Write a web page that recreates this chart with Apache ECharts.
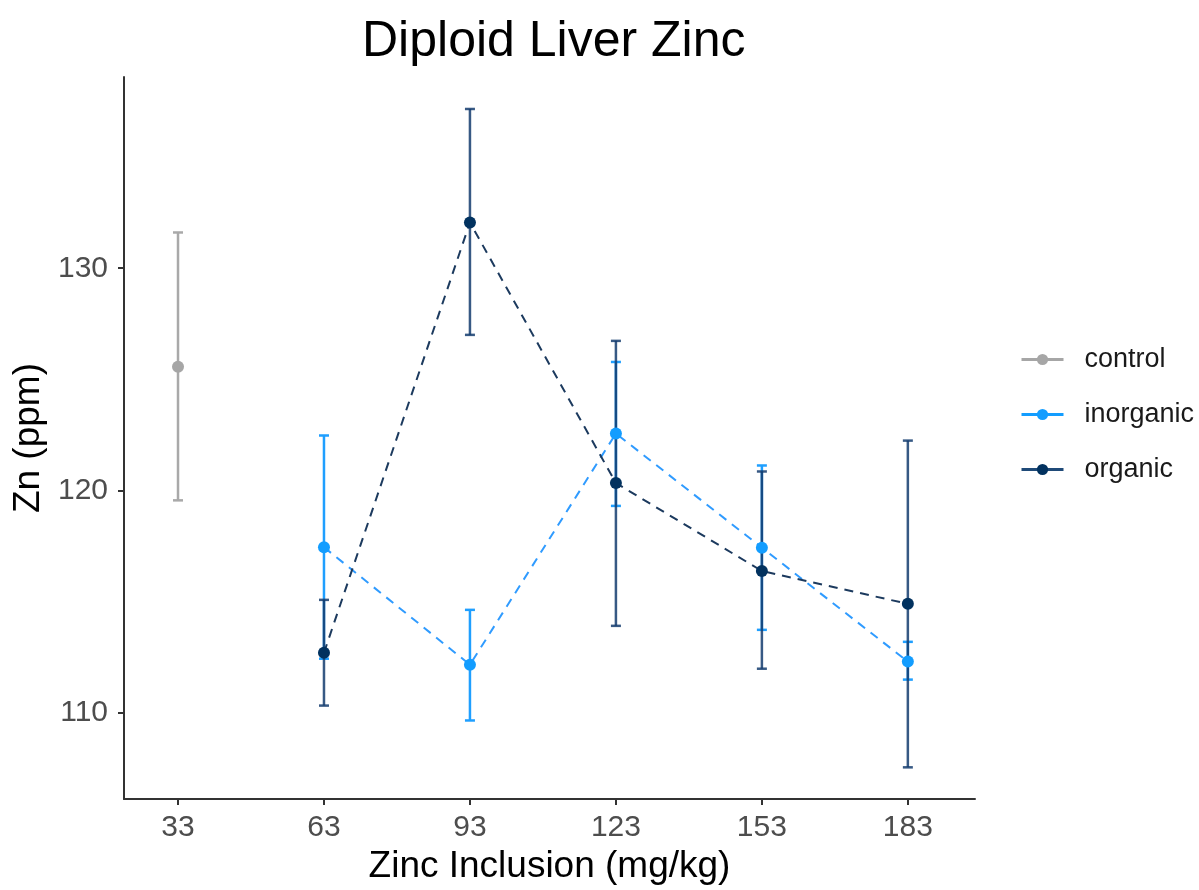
<!DOCTYPE html>
<html>
<head>
<meta charset="utf-8">
<script src="https://cdn.jsdelivr.net/npm/echarts@6/dist/echarts.min.js"></script>
<style>html,body{margin:0;padding:0;background:#fff;}#chart{width:1199px;height:890px;}</style>
</head>
<body>
<div id="chart"></div>
<script>
// ---- data ----
const xTicks = [33, 63, 93, 123, 153, 183];
const yTicks = [110, 120, 130];
const controlDose = [33];
const controlMean = [125.56];
const controlLow = [119.55];
const controlHigh = [131.61];
const treatDose = [63, 93, 123, 153, 183];
const inorganicMean = [117.44, 112.15, 122.56, 117.42, 112.29];
const inorganicLow = [112.42, 109.64, 119.30, 113.72, 111.48];
const inorganicHigh = [122.47, 114.62, 125.78, 121.12, 113.18];
const organicMean = [112.69, 132.06, 120.33, 116.37, 114.89];
const organicLow = [110.31, 127.00, 113.90, 111.97, 107.53];
const organicHigh = [115.07, 137.17, 126.73, 120.85, 122.24];

// ---- build ----
const FONT = "'Liberation Sans', Arial, Helvetica, sans-serif";
function pts(xs, ys) { return xs.map((x, i) => [x, ys[i]]); }
function bars(xs, lo, hi) { return xs.map((x, i) => [x, lo[i], hi[i]]); }
function errRenderer(color, width) {
  return function (params, api) {
    const x = api.value(0);
    const a = api.coord([x, api.value(1)]);
    const b = api.coord([x, api.value(2)]);
    const h = 5;
    const style = { stroke: color, lineWidth: width, fill: null };
    return {
      type: 'group',
      children: [
        { type: 'line', shape: { x1: a[0], y1: a[1], x2: b[0], y2: b[1] }, style: style },
        { type: 'line', shape: { x1: a[0] - h, y1: a[1], x2: a[0] + h, y2: a[1] }, style: style },
        { type: 'line', shape: { x1: b[0] - h, y1: b[1], x2: b[0] + h, y2: b[1] }, style: style }
      ]
    };
  };
}
const C_CTRL = '#a6a6a6', C_INO = '#139dff', C_ORG = '#02325f';

const chart = echarts.init(document.getElementById('chart'), null, { renderer: 'canvas' });
chart.setOption({
  backgroundColor: '#ffffff',
  animation: false,
  textStyle: { fontFamily: FONT },
  title: {
    text: 'Diploid Liver Zinc',
    left: 357, top: 12,
    textStyle: { fontFamily: FONT, fontSize: 50, fontWeight: 'normal', color: '#000' }
  },
  legend: {
    orient: 'vertical',
    left: 1015, top: 341,
    itemWidth: 42, itemHeight: 14, itemGap: 28,
    textStyle: { fontFamily: FONT, fontSize: 27, color: '#1a1a1a', padding: [0, 0, 0, 16] },
    data: [
      { name: 'control', lineStyle: { type: 'solid', width: 3, color: C_CTRL } },
      { name: 'inorganic', lineStyle: { type: 'solid', width: 3, color: C_INO } },
      { name: 'organic', lineStyle: { type: 'solid', width: 3, color: '#1f4a78' } }
    ]
  },
  grid: { left: 124, right: 224, top: 77, bottom: 87, containLabel: false },
  xAxis: {
    type: 'value', min: 21.9, max: 196.8,
    name: 'Zinc Inclusion (mg/kg)', nameLocation: 'middle', nameGap: 43,
    nameTextStyle: { fontFamily: FONT, fontSize: 37, color: '#000' },
    axisLine: { show: true, lineStyle: { color: '#333', width: 2 } },
    axisTick: { show: true, length: 6, lineStyle: { color: '#333', width: 2 }, customValues: xTicks },
    axisLabel: { fontFamily: FONT, fontSize: 30, color: '#4d4d4d', margin: 14, customValues: xTicks },
    splitLine: { show: false }
  },
  yAxis: {
    type: 'value', min: 106.1, max: 138.61,
    name: 'Zn (ppm)', nameLocation: 'middle', nameGap: 64, nameRotate: 90,
    nameTextStyle: { fontFamily: FONT, fontSize: 37, color: '#000' },
    axisLine: { show: true, lineStyle: { color: '#333', width: 2 } },
    axisTick: { show: true, length: 6, lineStyle: { color: '#333', width: 2 }, customValues: yTicks },
    axisLabel: { fontFamily: FONT, fontSize: 30, color: '#4d4d4d', margin: 16, customValues: yTicks },
    splitLine: { show: false }
  },
  series: [
    { name: 'control', type: 'line', data: pts(controlDose, controlMean), symbol: 'circle', symbolSize: 12,
      itemStyle: { color: C_CTRL }, lineStyle: { color: C_CTRL, width: 2 }, z: 5 },
    { name: 'inorganic', type: 'line', data: pts(treatDose, inorganicMean), symbol: 'circle', symbolSize: 12,
      itemStyle: { color: C_INO }, lineStyle: { color: '#2f9bff', width: 2, type: [9, 7] }, z: 5 },
    { name: 'organic', type: 'line', data: pts(treatDose, organicMean), symbol: 'circle', symbolSize: 12,
      itemStyle: { color: C_ORG }, lineStyle: { color: '#1c3a5e', width: 2, type: [9, 7] }, z: 6 },
    { name: 'control-err', type: 'custom', renderItem: errRenderer('#a9a9a9', 2.5),
      data: bars(controlDose, controlLow, controlHigh), encode: { x: 0, y: [1, 2] }, z: 2 },
    { name: 'inorganic-err', type: 'custom', renderItem: errRenderer('#1f9fff', 2.5),
      data: bars(treatDose, inorganicLow, inorganicHigh), encode: { x: 0, y: [1, 2] }, z: 2 },
    { name: 'organic-err', type: 'custom', renderItem: errRenderer('rgba(20,60,110,0.85)', 2.5),
      data: bars(treatDose, organicLow, organicHigh), encode: { x: 0, y: [1, 2] }, z: 3 }
  ]
});
</script>
</body>
</html>
